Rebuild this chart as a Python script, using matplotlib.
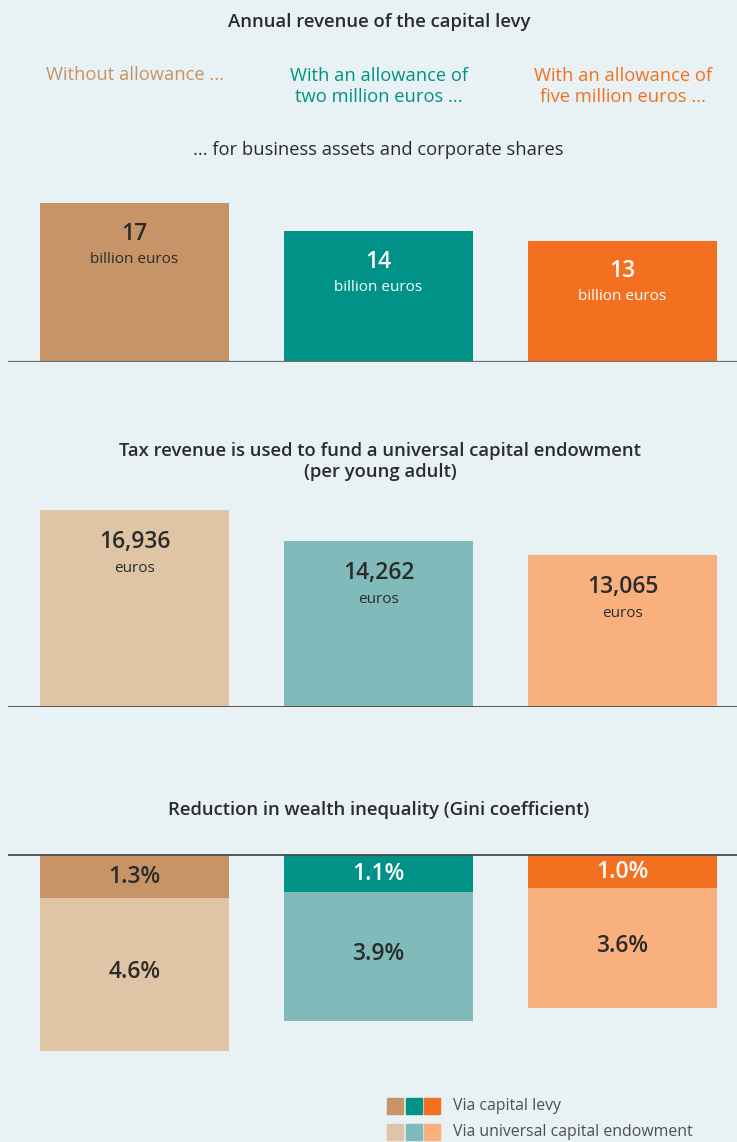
import matplotlib
matplotlib.use("Agg")
import matplotlib.pyplot as plt
from matplotlib.patches import Rectangle

plt.rcParams['font.family'] = ['Open Sans', 'DejaVu Sans']

# data
scenarios = ['Without allowance ...', 'With an allowance of\ntwo million euros ...',
             'With an allowance of\nfive million euros ...']
levy_bn = [17, 14, 13]
levy_labels = ['17', '14', '13']
endowment_eur = [16936, 14262, 13065]
endowment_labels = ['16,936', '14,262', '13,065']
gini_levy = [1.3, 1.1, 1.0]
gini_endow = [4.6, 3.9, 3.6]

dark_cols = ['#C69467', '#009286', '#F37021']
light_cols = ['#E0C4A6', '#80BABA', '#F8B07E']
label_on_dark = ['#2b2b2b', 'white', 'white']
txt = '#2b2b2b'
bg = '#E8F1F3'

W, H = 737, 1142
fig = plt.figure(figsize=(W / 100, H / 100), dpi=100, facecolor=bg)

pitch = 244.0          # px between bar centres
x0 = 134.5             # px centre of first bar
bw = 189 / pitch
xl = (-x0 / pitch, (W - x0) / pitch)
line_start = 9 / W

head_fs = 13.3
num_fs = 16.5


def make_ax(top_px, bot_px):
    a = fig.add_axes([0, 1 - bot_px / H, 1, (bot_px - top_px) / H])
    a.set_facecolor('none')
    a.set_xlim(*xl)
    a.axis('off')
    return a


def ftext(x_px, y_px, s, **kw):
    fig.text(x_px / W, 1 - y_px / H, s, ha='center', va='center', **kw)


xs = range(3)

# panel 1: levy revenue
ax1 = make_ax(190, 362)
ax1.set_ylim(0, 172 / 9.33)
ax1.bar(xs, levy_bn, width=bw, color=dark_cols)
ax1.axhline(0, xmin=line_start, xmax=1, color='#6e6e6e', lw=1.6)
for i in xs:
    ax1.annotate(levy_labels[i], (i, levy_bn[i]), xytext=(0, -22), textcoords='offset points',
                 ha='center', va='center', fontsize=num_fs, fontweight='semibold', color=label_on_dark[i])
    ax1.annotate('billion euros', (i, levy_bn[i]), xytext=(0, -40.5), textcoords='offset points',
                 ha='center', va='center', fontsize=11, color=label_on_dark[i])

# panel 2: endowment per young adult
ax2 = make_ax(500, 707)
ax2.set_ylim(0, 207 / 0.01161)
ax2.bar(xs, endowment_eur, width=bw, color=light_cols)
ax2.axhline(0, xmin=line_start, xmax=1, color='#4a4a4a', lw=1.3)
for i in xs:
    ax2.annotate(endowment_labels[i], (i, endowment_eur[i]), xytext=(0, -22.5), textcoords='offset points',
                 ha='center', va='center', fontsize=num_fs, fontweight='semibold', color=txt)
    ax2.annotate('euros', (i, endowment_eur[i]), xytext=(0, -42), textcoords='offset points',
                 ha='center', va='center', fontsize=11, color=txt)

# panel 3: gini reduction (hanging bars)
ax3 = make_ax(855, 1068)
ax3.set_ylim(213 / 33.2, 0)
ax3.bar(xs, gini_levy, width=bw, color=dark_cols)
ax3.bar(xs, gini_endow, width=bw, bottom=gini_levy, color=light_cols)
ax3.axhline(0, xmin=line_start, xmax=1, color='#4a4a4a', lw=1.3, clip_on=False)
for i in xs:
    ax3.annotate(f'{gini_levy[i]:.1f}%', (i, gini_levy[i] / 2), xytext=(0, -0.5), textcoords='offset points',
                 ha='center', va='center', fontsize=num_fs, fontweight='semibold', color=label_on_dark[i])
    ax3.annotate(f'{gini_endow[i]:.1f}%', (i, gini_levy[i] + gini_endow[i] / 2), xytext=(0, 1.5),
                 textcoords='offset points', ha='center', va='center', fontsize=num_fs,
                 fontweight='semibold', color=txt)

# headings
ftext(379, 22, 'Annual revenue of the capital levy', fontsize=head_fs, fontweight='semibold', color=txt)
ftext(134.5, 75, scenarios[0], fontsize=13.2, color=dark_cols[0])
ftext(378.5, 86.5, scenarios[1], fontsize=13.2, color=dark_cols[1], linespacing=1.2)
ftext(622.5, 86.5, scenarios[2], fontsize=13.2, color=dark_cols[2], linespacing=1.2)
ftext(378, 150, '... for business assets and corporate shares', fontsize=13.2, color=txt)
ftext(380, 461.5, 'Tax revenue is used to fund a universal capital endowment\n(per young adult)',
      fontsize=head_fs, fontweight='semibold', color=txt, linespacing=1.15)
ftext(379, 810, 'Reduction in wealth inequality (Gini coefficient)', fontsize=head_fs,
      fontweight='semibold', color=txt)

# legend
sq = 16
for row, (cols, lab, y) in enumerate([(dark_cols, 'Via capital levy', 1106),
                                      (light_cols, 'Via universal capital endowment', 1132)]):
    for j, c in enumerate(cols):
        fig.patches.append(Rectangle(((387 + j * 18.5) / W, 1 - (y + sq / 2) / H), sq / W, sq / H,
                                     transform=fig.transFigure, color=c, figure=fig))
    fig.text(453 / W, 1 - y / H, lab, ha='left', va='center', fontsize=11.4, color='#4f4f4f')

fig.savefig('out.png', dpi=100, facecolor=bg)
